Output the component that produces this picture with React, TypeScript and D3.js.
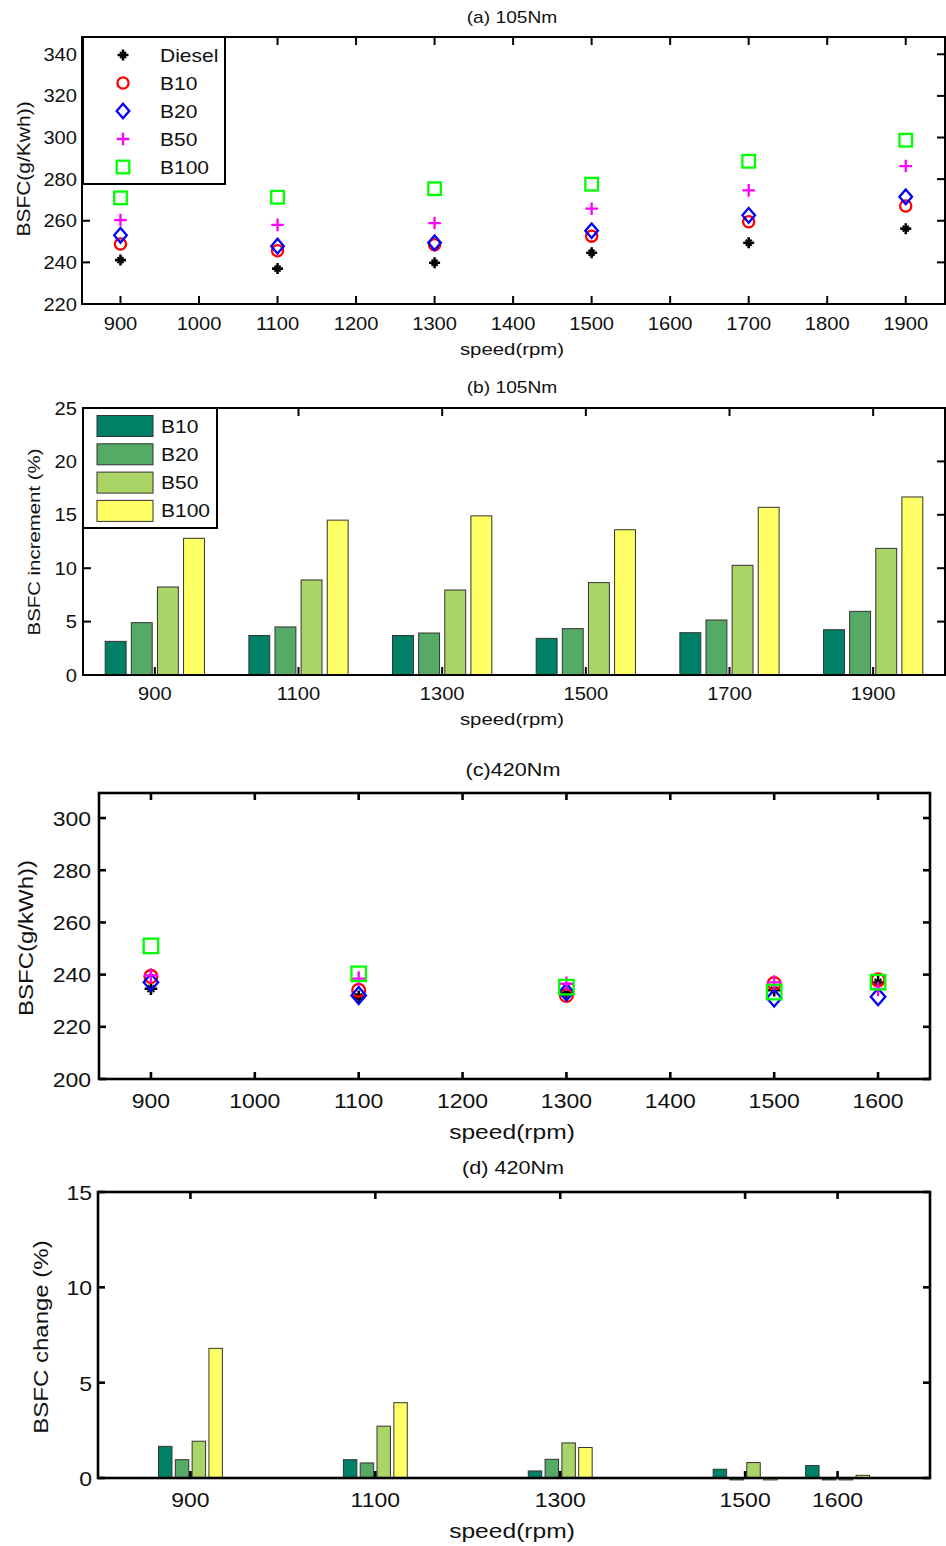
import React from "react";
import * as d3 from "d3";

// ---------- data ----------
const seriesNames = ["Diesel", "B10", "B20", "B50", "B100"];
const barNames = ["B10", "B20", "B50", "B100"];

// (a) 105Nm BSFC
const speedsA = [900, 1100, 1300, 1500, 1700, 1900];
const dieselA = [241.1, 237.0, 239.8, 244.6, 249.4, 256.2];
const b10A = [248.8, 245.6, 248.5, 252.6, 259.5, 267.1];
const b20A = [253.0, 247.8, 249.4, 255.2, 262.6, 271.5];
const b50A = [260.3, 258.0, 258.9, 265.8, 274.6, 286.3];
const b100A = [271.0, 271.3, 275.4, 277.6, 288.6, 298.7];
const xTicksA = [900, 1000, 1100, 1200, 1300, 1400, 1500, 1600, 1700, 1800, 1900];
const yTicksA = [220, 240, 260, 280, 300, 320, 340];

// (b) 105Nm BSFC increment
const groupsB = ["900", "1100", "1300", "1500", "1700", "1900"];
const b10B = [3.15, 3.7, 3.7, 3.43, 3.96, 4.24];
const b20B = [4.9, 4.5, 3.93, 4.34, 5.15, 5.96];
const b50B = [8.24, 8.9, 7.96, 8.65, 10.27, 11.86];
const b100B = [12.8, 14.5, 14.9, 13.6, 15.7, 16.67];
const yTicksB = [0, 5, 10, 15, 20, 25];

// (c) 420Nm BSFC
const speedsC = [900, 1100, 1300, 1500, 1600];
const dieselC = [234.6, 231.5, 233.0, 234.0, 237.0];
const b10C = [239.3, 234.0, 232.0, 236.6, 238.0];
const b20C = [237.1, 232.0, 233.3, 231.0, 231.5];
const b50C = [239.7, 238.5, 236.5, 237.0, 234.5];
const b100C = [251.0, 240.3, 235.2, 233.3, 237.1];
const xTicksC = [900, 1000, 1100, 1200, 1300, 1400, 1500, 1600];
const yTicksC = [200, 220, 240, 260, 280, 300];

// (d) 420Nm BSFC change
const speedsD = [900, 1100, 1300, 1500, 1600];
const b10D = [1.66, 0.96, 0.37, 0.46, 0.65];
const b20D = [0.96, 0.79, 0.98, -0.1, -0.1];
const b50D = [1.93, 2.72, 1.84, 0.81, -0.1];
const b100D = [6.8, 3.95, 1.6, -0.1, 0.14];
const yTicksD = [0, 5, 10, 15];

// ---------- styles ----------
const FONT = "'Liberation Sans', Arial, Helvetica, sans-serif";
const barColors = ["#008066", "#55aa66", "#aad466", "#ffff66"];
const markerTypes = ["star", "circle", "diamond", "plus", "square"];
const markerColors = ["#000000", "#ff0000", "#0000ff", "#ff00ff", "#00ff00"];

function T({ x, y, fs, anchor = "middle", sx = 1.2, rot = false, children }: any) {
  return (
    <text
      transform={`translate(${x},${y})${rot ? " rotate(-90)" : ""} scale(${sx},1)`}
      textAnchor={anchor}
      fontSize={fs}
      fontFamily={FONT}
      fill="#111"
    >
      {children}
    </text>
  );
}

function Marker({ type, x, y, s = 1 }: any) {
  const c = markerColors[markerTypes.indexOf(type)];
  const sw = 2.3;
  switch (type) {
    case "star":
      return (
        <g transform={`translate(${x},${y})`} stroke={c} strokeWidth={2.6}>
          <path d={`M${-5.5 * s},0H${5.5 * s}M0,${-5.5 * s}V${5.5 * s}`} />
          <path d={`M${-3 * s},${-3 * s}L${3 * s},${3 * s}M${-3 * s},${3 * s}L${3 * s},${-3 * s}`} strokeWidth={2} />
        </g>
      );
    case "circle":
      return <circle cx={x} cy={y} r={5.6 * s} fill="none" stroke={c} strokeWidth={sw} />;
    case "diamond":
      return (
        <path
          transform={`translate(${x},${y})`}
          d={`M0,${-7.3 * s}L${6.3 * s},0L0,${7.3 * s}L${-6.3 * s},0Z`}
          fill="none"
          stroke={c}
          strokeWidth={sw}
        />
      );
    case "plus":
      return (
        <path
          transform={`translate(${x},${y})`}
          d={`M${-6.3 * s},0H${6.3 * s}M0,${-6.3 * s}V${6.3 * s}`}
          stroke={c}
          strokeWidth={sw}
        />
      );
    default:
      return (
        <rect x={x - 6.3 * s} y={y - 6.3 * s} width={12.6 * s} height={12.6 * s} fill="none" stroke={c} strokeWidth={sw} />
      );
  }
}

function Frame({ L, R, Tp, B, xt, yt, lw, tl = 8 }: any) {
  return (
    <g stroke="#000" strokeWidth={lw} fill="none">
      {xt.map((x: number, i: number) => (
        <g key={"x" + i}>
          <line x1={x} x2={x} y1={B} y2={B - tl} />
          <line x1={x} x2={x} y1={Tp} y2={Tp + tl} />
        </g>
      ))}
      {yt.map((y: number, i: number) => (
        <g key={"y" + i}>
          <line x1={L} x2={L + tl} y1={y} y2={y} />
          <line x1={R} x2={R - tl} y1={y} y2={y} />
        </g>
      ))}
      <rect x={L} y={Tp} width={R - L} height={B - Tp} />
    </g>
  );
}

function PanelA() {
  const L = 82, R = 945, Tp = 37, B = 304;
  const x = d3.scaleLinear().domain([851, 1950]).range([L, R]);
  const y = d3.scaleLinear().domain([220, 348.3]).range([B, Tp]);
  const series = [dieselA, b10A, b20A, b50A, b100A];
  const rows = [55, 83, 111, 139, 167];
  return (
    <g>
      <T x={512} y={23} fs={16}>(a) 105Nm</T>
      {series.map((vals, si) =>
        vals.map((v, i) => <Marker key={si + "-" + i} type={markerTypes[si]} x={x(speedsA[i])} y={y(v)} />)
      )}
      <Frame L={L} R={R} Tp={Tp} B={B} xt={xTicksA.map((t) => x(t))} yt={yTicksA.map((t) => y(t))} lw={2} />
      {yTicksA.map((t) => (
        <T key={t} x={77} y={y(t) + 6.5} fs={17.5} sx={1.15} anchor="end">{t}</T>
      ))}
      {xTicksA.map((t) => (
        <T key={t} x={x(t)} y={330} fs={17.5} sx={1.15}>{t}</T>
      ))}
      <T x={512} y={355} fs={17}>speed(rpm)</T>
      <T x={30} y={169} fs={17.5} rot>BSFC(g/Kwh))</T>
      <rect x={83} y={37} width={142} height={147} fill="#fff" stroke="#000" strokeWidth={2} />
      {seriesNames.map((n, i) => (
        <g key={n}>
          <Marker type={markerTypes[i]} x={123} y={rows[i]} />
          <T x={160} y={rows[i] + 6.5} fs={17.5} anchor="start">{n}</T>
        </g>
      ))}
    </g>
  );
}

function PanelB() {
  const L = 83, R = 945, Tp = 408, B = 675;
  const x = d3.scaleLinear().domain([0.5, 6.5]).range([L, R]);
  const y = d3.scaleLinear().domain([0, 25]).range([B, Tp]);
  const series = [b10B, b20B, b50B, b100B];
  const gw = 0.7273;
  const bw = (gw / 4) * 0.8;
  const rows = [426, 454.3, 482.6, 510.9];
  return (
    <g>
      <T x={512} y={393} fs={16}>(b) 105Nm</T>
      {series.map((vals, si) =>
        vals.map((v, i) => {
          const c = i + 1 + (si - 1.5) * (gw / 4);
          return (
            <rect
              key={si + "-" + i}
              x={x(c - bw / 2)}
              y={y(Math.max(v, 0))}
              width={x(bw) - x(0)}
              height={Math.abs(y(v) - y(0))}
              fill={barColors[si]}
              stroke="#333"
              strokeWidth={1}
            />
          );
        })
      )}
      <Frame L={L} R={R} Tp={Tp} B={B} xt={groupsB.map((_, i) => x(i + 1))} yt={yTicksB.map((t) => y(t))} lw={2} />
      {yTicksB.map((t) => (
        <T key={t} x={77} y={y(t) + 6.5} fs={17.5} sx={1.15} anchor="end">{t}</T>
      ))}
      {groupsB.map((g, i) => (
        <T key={g} x={x(i + 1)} y={700} fs={17.5} sx={1.15}>{g}</T>
      ))}
      <T x={512} y={725} fs={17}>speed(rpm)</T>
      <T x={40} y={542} fs={17} rot>BSFC increment (%)</T>
      <rect x={83} y={408} width={134} height={120} fill="#fff" stroke="#000" strokeWidth={2} />
      {barNames.map((n, i) => (
        <g key={n}>
          <rect x={97} y={rows[i] - 10.5} width={56} height={21} fill={barColors[i]} stroke="#333" strokeWidth={1} />
          <T x={161} y={rows[i] + 6.5} fs={17.5} anchor="start">{n}</T>
        </g>
      ))}
    </g>
  );
}

function PanelC() {
  const L = 99, R = 930, Tp = 793, B = 1079;
  const x = d3.scaleLinear().domain([850, 1650]).range([L, R]);
  const y = d3.scaleLinear().domain([200, 309.6]).range([B, Tp]);
  const series = [dieselC, b10C, b20C, b50C, b100C];
  return (
    <g>
      <T x={513} y={776} fs={18}>(c)420Nm</T>
      {series.map((vals, si) =>
        vals.map((v, i) => <Marker key={si + "-" + i} type={markerTypes[si]} x={x(speedsC[i])} y={y(v)} s={1.15} />)
      )}
      <Frame L={L} R={R} Tp={Tp} B={B} xt={xTicksC.map((t) => x(t))} yt={yTicksC.map((t) => y(t))} lw={2.6} tl={7} />
      {yTicksC.map((t) => (
        <T key={t} x={91} y={y(t) + 7.5} fs={20} sx={1.15} anchor="end">{t}</T>
      ))}
      {xTicksC.map((t) => (
        <T key={t} x={x(t)} y={1108} fs={20} sx={1.15}>{t}</T>
      ))}
      <T x={512} y={1139} fs={20.5}>speed(rpm)</T>
      <T x={33} y={938} fs={20} rot>BSFC(g/kWh))</T>
    </g>
  );
}

function PanelD() {
  const L = 98, R = 930, Tp = 1192, B = 1478;
  const x = d3.scaleLinear().domain([800, 1700]).range([L, R]);
  const y = d3.scaleLinear().domain([0, 15]).range([B, Tp]);
  const series = [b10D, b20D, b50D, b100D];
  const unit = 100;
  const gw = 0.7273 * unit;
  const bw = (gw / 4) * 0.8;
  return (
    <g>
      <T x={513} y={1174} fs={18}>(d) 420Nm</T>
      {series.map((vals, si) =>
        vals.map((v, i) => {
          const c = speedsD[i] + (si - 1.5) * (gw / 4);
          return (
            <rect
              key={si + "-" + i}
              x={x(c - bw / 2)}
              y={y(Math.max(v, 0))}
              width={x(bw) - x(0)}
              height={Math.abs(y(v) - y(0))}
              fill={barColors[si]}
              stroke="#333"
              strokeWidth={1}
            />
          );
        })
      )}
      <Frame L={L} R={R} Tp={Tp} B={B} xt={speedsD.map((t) => x(t))} yt={yTicksD.map((t) => y(t))} lw={2.6} tl={7} />
      {yTicksD.map((t) => (
        <T key={t} x={92} y={y(t) + 8} fs={20} sx={1.15} anchor="end">{t}</T>
      ))}
      {speedsD.map((t) => (
        <T key={t} x={x(t)} y={1507} fs={20} sx={1.15}>{t}</T>
      ))}
      <T x={512} y={1538} fs={20.5}>speed(rpm)</T>
      <T x={48} y={1337} fs={20} rot>BSFC change (%)</T>
    </g>
  );
}

export default function App() {
  return (
    <svg
      width={946}
      height={1546}
      viewBox="0 0 946 1546"
      style={{ position: "absolute", left: 0, top: 0, background: "#fff" }}
    >
      <rect width={946} height={1546} fill="#fff" />
      <PanelA />
      <PanelB />
      <PanelC />
      <PanelD />
    </svg>
  );
}
